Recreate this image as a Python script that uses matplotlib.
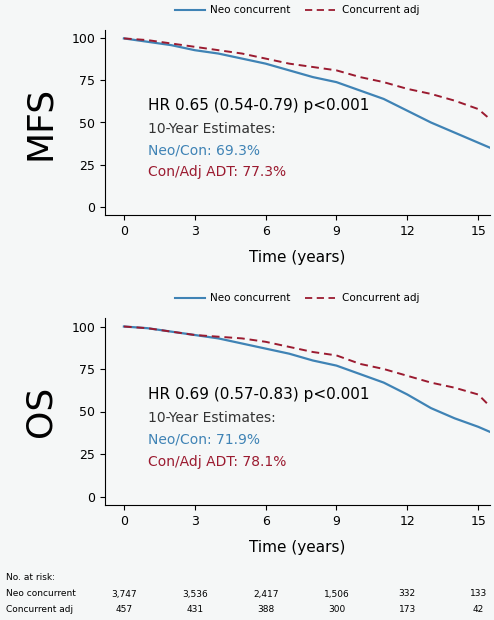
import matplotlib
matplotlib.use("Agg")
import matplotlib.pyplot as plt

W, H = 494, 620
BLUE, RED = "#3f83b5", "#9b1b30"

# curve values (years, percent)
t = [0, 1, 2, 3, 4, 5, 6, 7, 8, 9, 10, 11, 12, 13, 14, 15, 15.5]
mfs_neo = [100, 98, 96, 93, 91, 88, 85, 81, 77, 74, 69, 64, 57, 50, 44, 38, 35]
mfs_adj = [100, 99, 97, 95, 93, 91, 88, 85, 83, 81, 77, 74, 70, 67, 63, 58, 52]
os_neo = [100, 99, 97, 95, 93, 90, 87, 84, 80, 77, 72, 67, 60, 52, 46, 41, 38]
os_adj = [100, 99, 97, 95, 94, 93, 91, 88, 85, 83, 78, 75, 71, 67, 64, 60, 53]

risk_t = [0, 3, 6, 9, 12, 15]
risk_neo = ["3,747", "3,536", "2,417", "1,506", "332", "133"]
risk_adj = ["457", "431", "388", "300", "173", "42"]

fig = plt.figure(figsize=(W / 100, H / 100), dpi=100)
fig.patch.set_facecolor("#f5f7f7")

def panel(top_px, bot_px, neo, adj, name, hr, e1, e2):
    ax = fig.add_axes([105 / W, 1 - bot_px / H, (490 - 105) / W, (bot_px - top_px) / H])
    ax.set_facecolor("#f5f7f7")
    ax.plot(t, neo, color=BLUE, lw=1.6)
    ax.plot(t, adj, color=RED, lw=1.4, ls=(0, (4, 2.5)))
    ax.set_xlim(-0.8, 15.5)
    ax.set_ylim(-5, 105)
    ax.set_xticks([0, 3, 6, 9, 12, 15])
    ax.set_yticks([0, 25, 50, 75, 100])
    ax.tick_params(labelsize=9)
    for s in ["top", "right"]:
        ax.spines[s].set_visible(False)
    ax.set_xlabel("Time (years)", fontsize=11, labelpad=9)
    ax.text(1.0, 60, hr, fontsize=11, va="center")
    ax.text(1.0, 46, "10-Year Estimates:", fontsize=10, color="#333333", va="center")
    ax.text(1.0, 33.5, e1, fontsize=10, color=BLUE, va="center")
    ax.text(1.0, 20.5, e2, fontsize=10, color=RED, va="center")
    fig.text(40 / W, 1 - (top_px + bot_px) / 2 / H, name, rotation=90, fontsize=26,
             ha="center", va="center")
    # legend above the panel
    y = 1 - (top_px - 20) / H
    fig.lines.append(plt.Line2D([175 / W, 205 / W], [y, y], color=BLUE, lw=1.5, transform=fig.transFigure))
    fig.text(210 / W, y, "Neo concurrent", fontsize=7.5, va="center")
    fig.lines.append(plt.Line2D([305 / W, 335 / W], [y, y], color=RED, lw=1.3, ls=(0, (4, 2.5)), transform=fig.transFigure))
    fig.text(342 / W, y, "Concurrent adj", fontsize=7.5, va="center")
    return ax

panel(30, 215, mfs_neo, mfs_adj, "MFS", "HR 0.65 (0.54-0.79) p<0.001", "Neo/Con: 69.3%", "Con/Adj ADT: 77.3%")
ax2 = panel(318, 505, os_neo, os_adj, "OS", "HR 0.69 (0.57-0.83) p<0.001", "Neo/Con: 71.9%", "Con/Adj ADT: 78.1%")

fig.text(6 / W, 1 - 577 / H, "No. at risk:", fontsize=6.5, va="center")
fig.text(6 / W, 1 - 594 / H, "Neo concurrent", fontsize=6.5, va="center")
fig.text(6 / W, 1 - 610 / H, "Concurrent adj", fontsize=6.5, va="center")
for x, a, b in zip(risk_t, risk_neo, risk_adj):
    xf = ax2.transData.transform((x, 0))[0] / fig.bbox.width
    fig.text(xf, 1 - 594 / H, a, fontsize=6.5, ha="center", va="center")
    fig.text(xf, 1 - 610 / H, b, fontsize=6.5, ha="center", va="center")

fig.savefig("out.png", dpi=100, facecolor=fig.get_facecolor())
